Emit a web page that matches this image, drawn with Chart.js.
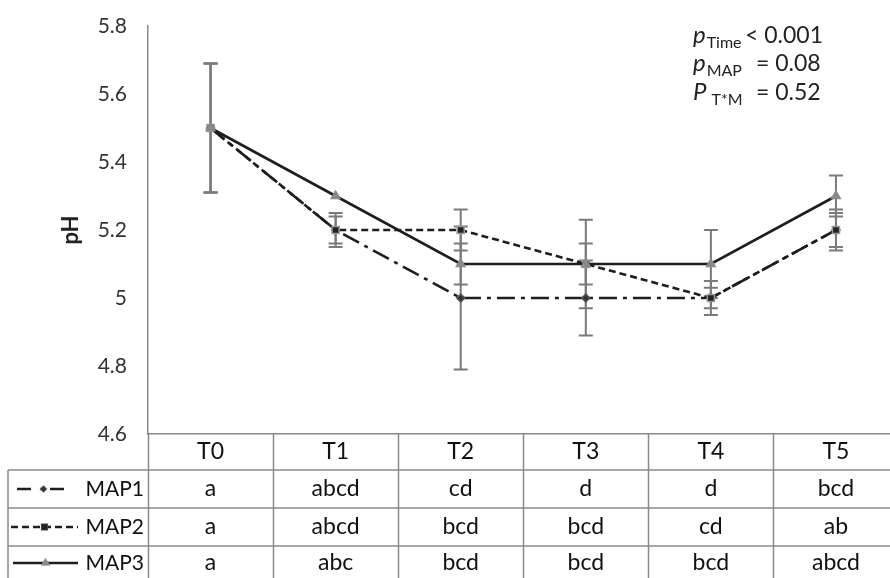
<!DOCTYPE html>
<html>
<head>
<meta charset="utf-8">
<script src="https://cdn.jsdelivr.net/npm/chart.js@4.4.1/dist/chart.umd.min.js"></script>
<style>
  html, body { margin: 0; padding: 0; background: #fff; overflow: hidden; }
  #wrap { width: 905px; height: 578px; }
</style>
</head>
<body>
<div id="wrap"><canvas id="c"></canvas></div>
<script>
// sampling times
const times = ['T0', 'T1', 'T2', 'T3', 'T4', 'T5'];
const seriesNames = ['MAP1', 'MAP2', 'MAP3'];

// mean pH
const phMAP1 = [5.5, 5.2, 5.0, 5.0, 5.0, 5.2];
const phMAP2 = [5.5, 5.2, 5.2, 5.1, 5.0, 5.2];
const phMAP3 = [5.5, 5.3, 5.1, 5.1, 5.1, 5.3];

// error bars (+/-)
const errMAP1 = [0.19, 0.04, 0.21, 0.11, 0.03, 0.05];
const errMAP2 = [0.19, 0.05, 0.06, 0.06, 0.05, 0.06];
const errMAP3 = [0.19, 0.0, 0.06, 0.13, 0.10, 0.06];

// significance letters shown in the table
const groupsMAP1 = ['a', 'abcd', 'cd', 'd', 'd', 'bcd'];
const groupsMAP2 = ['a', 'abcd', 'bcd', 'bcd', 'cd', 'ab'];
const groupsMAP3 = ['a', 'abc', 'bcd', 'bcd', 'bcd', 'abcd'];

const yTicks = [4.6, 4.8, 5.0, 5.2, 5.4, 5.6, 5.8];

const FONT = 'Lato, "Open Sans", sans-serif';
const lineCol = '#1e1e1e';

const styles = [
  {dash: [18, 6, 4, 6], point: 'rectRot', radius: 4, bg: '#333', bd: '#555'},
  {dash: [7, 4], point: 'rect', radius: 5, bg: '#222', bd: '#999'},
  {dash: [], point: 'triangle', radius: 5, bg: '#8a8a8a', bd: '#8a8a8a'}
];

const means = [phMAP1, phMAP2, phMAP3];
const errs = [errMAP1, errMAP2, errMAP3];
const groups = [groupsMAP1, groupsMAP2, groupsMAP3];

const errorBars = {
  id: 'errorBars',
  beforeDatasetsDraw(chart) {
    const {ctx, scales: {x, y}} = chart;
    ctx.save();
    ctx.strokeStyle = '#7a7a7a';
    ctx.lineWidth = 2;
    means.forEach((m, s) => {
      m.forEach((v, i) => {
        const e = errs[s][i];
        if (!e) return;
        const px = x.getPixelForValue(i);
        const top = y.getPixelForValue(v + e);
        const bot = y.getPixelForValue(v - e);
        ctx.beginPath();
        ctx.moveTo(px, top); ctx.lineTo(px, bot);
        ctx.moveTo(px - 7, top); ctx.lineTo(px + 7, top);
        ctx.moveTo(px - 7, bot); ctx.lineTo(px + 7, bot);
        ctx.stroke();
      });
    });
    ctx.restore();
  }
};

function drawP(ctx, x, y, p, sub, rest, restX) {
  ctx.fillStyle = '#222';
  ctx.textBaseline = 'alphabetic';
  ctx.textAlign = 'left';
  ctx.font = 'italic 24px ' + FONT;
  ctx.fillText(p, x, y);
  const w = ctx.measureText(p).width;
  ctx.font = '16px ' + FONT;
  ctx.fillText(sub, x + w + 1, y + 5);
  ctx.font = '23px ' + FONT;
  ctx.fillText(rest, restX, y);
}

const extras = {
  id: 'extras',
  afterDraw(chart) {
    const {ctx, chartArea: a, scales: {x}} = chart;
    const W = chart.width, H = chart.height;
    const half = (x.getPixelForValue(1) - x.getPixelForValue(0)) / 2;

    // p-value annotation
    ctx.save();
    drawP(ctx, 693, 43, 'p', 'Time', '< 0.001', 745);
    drawP(ctx, 693, 71, 'p', 'MAP', '= 0.08', 756);
    drawP(ctx, 693, 100, 'P', ' T*M', '= 0.52', 756);
    ctx.restore();

    // table grid
    ctx.save();
    ctx.strokeStyle = '#8a8a8a';
    ctx.lineWidth = 1.5;
    const rowTop = [470, 508, 546];
    ctx.beginPath();
    rowTop.forEach(ry => { ctx.moveTo(8, ry); ctx.lineTo(W, ry); });
    ctx.moveTo(8, 470); ctx.lineTo(8, H);
    for (let i = 0; i < times.length; i++) {
      const bx = Math.round(x.getPixelForValue(i) - half) + 0.5;
      ctx.moveTo(bx, a.bottom); ctx.lineTo(bx, H);
    }
    ctx.stroke();

    // header and letters
    ctx.fillStyle = '#111';
    ctx.textAlign = 'center';
    ctx.textBaseline = 'middle';
    ctx.font = '23px ' + FONT;
    const rowMid = [489, 527, 563];
    times.forEach((t, i) => {
      const cx = x.getPixelForValue(i);
      ctx.fillText(t, cx, 452);
      groups.forEach((g, s) => ctx.fillText(g[i], cx, rowMid[s]));
    });

    // legend cells
    const sampleX = [[17, 70], [11, 78], [13, 78]];
    seriesNames.forEach((n, s) => {
      const yy = rowMid[s];
      const st = styles[s];
      ctx.save();
      ctx.strokeStyle = lineCol;
      ctx.lineWidth = 2.5;
      ctx.setLineDash(s === 0 ? [14, 9, 4, 6] : st.dash);
      ctx.beginPath();
      ctx.moveTo(sampleX[s][0], yy); ctx.lineTo(sampleX[s][1], yy);
      ctx.stroke();
      ctx.restore();
      const mx = (sampleX[s][0] + sampleX[s][1]) / 2;
      Chart.helpers.drawPoint(ctx, {pointStyle: st.point, radius: st.radius - 1, borderWidth: 1}, mx, yy);
      ctx.fillStyle = st.bg;
      ctx.strokeStyle = st.bd;
      ctx.fill();
      ctx.fillStyle = '#111';
      ctx.textAlign = 'right';
      ctx.font = '21px ' + FONT;
      ctx.fillText(n, 144, yy);
    });
    ctx.restore();
  }
};

new Chart(document.getElementById('c'), {
  type: 'line',
  data: {
    labels: times,
    datasets: seriesNames.map((n, s) => ({
      label: n,
      data: means[s],
      borderColor: lineCol,
      borderWidth: 2.6,
      borderDash: styles[s].dash,
      pointStyle: styles[s].point,
      pointRadius: styles[s].radius,
      pointBackgroundColor: styles[s].bg,
      pointBorderColor: styles[s].bd,
      pointBorderWidth: 1.5,
      tension: 0,
      fill: false
    })).reverse()
  },
  options: {
    responsive: true,
    maintainAspectRatio: false,
    animation: false,
    events: [],
    layout: {padding: {left: 56, top: 26, right: 1, bottom: 136}},
    plugins: {legend: {display: false}, tooltip: {enabled: false}},
    scales: {
      x: {
        offset: true,
        grid: {display: false},
        ticks: {display: false},
        border: {color: '#8a8a8a', width: 1.5}
      },
      y: {
        min: 4.6,
        max: 5.8,
        afterBuildTicks: (s) => { s.ticks = yTicks.map(v => ({value: v})); },
        afterFit: (s) => { s.width = 92; },
        grid: {display: false, drawTicks: true, tickLength: 21},
        border: {color: '#8a8a8a', width: 1.5},
        ticks: {
          padding: 0,
          color: '#333',
          font: {family: FONT, size: 21},
          callback: (v) => String(Number(v.toFixed(1)))
        },
        title: {display: true, text: 'pH', color: '#222', padding: {top: 2, bottom: 0}, font: {family: FONT, size: 22, weight: 'bold'}}
      }
    }
  },
  plugins: [errorBars, extras]
});
</script>
</body>
</html>
